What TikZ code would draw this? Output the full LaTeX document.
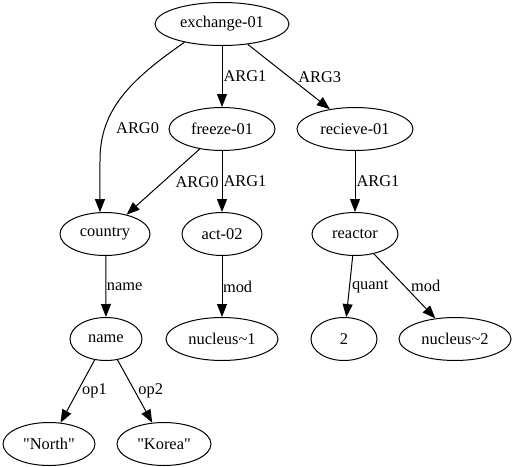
\documentclass[tikz,border=0pt]{standalone}
\usepackage{fontspec}
\setmainfont{Liberation Serif}
\usetikzlibrary{shapes.geometric,arrows.meta}
\begin{document}
\begin{tikzpicture}[x=1pt,y=-1pt,
        amr/.style={draw, ellipse, line width=1pt, inner sep=0pt, minimum height=43pt, font=\fontsize{16.4}{19}\selectfont},
        arco/.style={-{Triangle[length=13pt,width=10pt]}, line width=1pt},
        etic/.style={font=\fontsize{16.4}{19}\selectfont, inner sep=1pt, anchor=west}]
        \useasboundingbox (0,0) rectangle (514,466);
        % Nodi
        \node[amr, minimum width=134pt] (ex) at (222,24) {exchange-01};
        \node[amr, minimum width=106pt] (fr) at (222,129) {freeze-01};
        \node[amr, minimum width=116pt] (re) at (355,129) {recieve-01};
        \node[amr, minimum width=90pt] (co) at (105,234) {country};
        \node[amr, minimum width=80pt] (ac) at (222,234) {act-02};
        \node[amr, minimum width=86pt] (rc) at (355,234) {reactor};
        \node[amr, minimum width=72pt] (nm) at (106,339) {name};
        \node[amr, minimum width=112pt] (n1) at (222,339) {nucleus\textasciitilde 1};
        \node[amr, minimum width=66pt] (two) at (344,339) {2};
        \node[amr, minimum width=112pt] (n2) at (455,339) {nucleus\textasciitilde 2};
        \node[amr, minimum width=92pt] (no) at (49,444) {\textquotedbl North\textquotedbl};
        \node[amr, minimum width=94pt] (ko) at (164,444) {\textquotedbl Korea\textquotedbl};
        % Archi
        \draw[arco] (ex.206) .. controls (130,80) and (100,110) .. (100,160) node[etic, pos=0.77, xshift=10pt] {ARG0} -- (co.103);
        \draw[arco] (ex) -- node[etic] {ARG1} (fr);
        \draw[arco] (ex) -- node[etic, xshift=8pt] {ARG3} (re);
        \draw[arco] (fr) -- node[etic, xshift=11pt] {ARG0} (co);
        \draw[arco] (fr) -- node[etic] {ARG1} (ac);
        \draw[arco] (re) -- node[etic] {ARG1} (rc);
        \draw[arco] (co.272) -- node[etic, inner sep=0.5pt] {name} (nm);
        \draw[arco] (ac) -- node[etic, inner sep=0.5pt] {mod} (n1);
        \draw[arco] (rc) -- node[etic, xshift=1pt] {quant} (two);
        \draw[arco] (rc) -- node[etic, xshift=5pt] {mod} (n2);
        \draw[arco] (nm) -- node[etic, xshift=3pt] {op1} (no);
        \draw[arco] (nm) -- node[etic, xshift=2pt] {op2} (ko);
    \end{tikzpicture}
\end{document}
